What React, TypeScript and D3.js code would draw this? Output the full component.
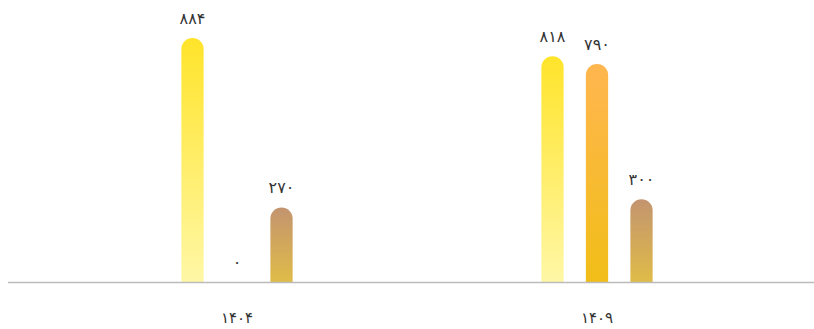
import React from "react";
import * as d3 from "d3";

const categories = ["1404", "1409"];
const seriesNames = ["s1", "s2", "s3"];
const values1 = [884, 818];
const values2 = [0, 790];
const values3 = [270, 300];

const gradients = [
  { top: "#FFE42A", bottom: "#FFF7A6" },
  { top: "#FFB64F", bottom: "#F1BE18" },
  { top: "#C3946F", bottom: "#DFBC48" },
];

const W = 814;
const H = 329;
const baseY = 282;

const fa = (v: number | string) =>
  String(v).replace(/[0-9]/g, (d) => "۰۱۲۳۴۵۶۷۸۹"[+d]);

export default function App() {
  const x = d3.scaleBand<string>().domain(categories).range([57, 777]).padding(0);
  const xs = d3
    .scaleBand<string>()
    .domain(seriesNames)
    .range([-66.75, 66.75])
    .paddingInner(0.5)
    .paddingOuter(0.25);
  const y = d3.scaleLinear().domain([0, 884]).range([baseY, 38]);
  const all = [values1, values2, values3];
  const bw = xs.bandwidth();
  const r = bw / 2;
  const font = "'Noto Sans', 'DejaVu Sans', sans-serif";

  const barPath = (x0: number, yTop: number) => {
    const h = baseY - yTop;
    if (h <= 0) return "";
    const rr = Math.min(r, h);
    return `M${x0},${baseY} L${x0},${yTop + rr} A${r},${rr} 0 0 1 ${x0 + bw},${yTop + rr} L${x0 + bw},${baseY} Z`;
  };

  return (
    <svg
      width={W}
      height={H}
      style={{ position: "fixed", left: 0, top: 0, background: "#fff" }}
    >
      <defs>
        {gradients.map((g, i) => (
          <linearGradient key={i} id={`g${i}`} x1="0" y1="0" x2="0" y2="1">
            <stop offset="0%" stopColor={g.top} />
            <stop offset="100%" stopColor={g.bottom} />
          </linearGradient>
        ))}
      </defs>
      {categories.map((c, ci) => (
        <g key={c}>
          {seriesNames.map((s, si) => {
            const v = all[si][ci];
            const cx = (x(c) as number) + x.bandwidth() / 2 + (xs(s) as number) + bw / 2;
            const yTop = y(v);
            return (
              <g key={s}>
                <path d={barPath(cx - bw / 2, yTop)} fill={`url(#g${si})`} />
                <text
                  x={cx}
                  y={yTop - 14}
                  textAnchor="middle"
                  fontFamily={font}
                  fontSize={16}
                  fill="#333"
                >
                  {fa(v)}
                </text>
              </g>
            );
          })}
          <text
            x={(x(c) as number) + x.bandwidth() / 2}
            y={323}
            textAnchor="middle"
            fontFamily={font}
            fontSize={15}
            fill="#333"
          >
            {fa(c)}
          </text>
        </g>
      ))}
      <line x1={8} x2={814} y1={baseY + 0.5} y2={baseY + 0.5} stroke="#bbb" strokeWidth={1.5} />
    </svg>
  );
}
